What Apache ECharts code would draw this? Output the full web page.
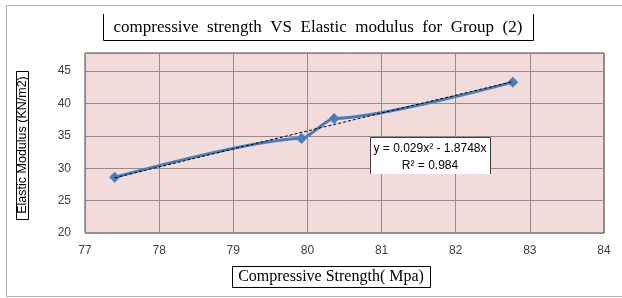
<!DOCTYPE html>
<html>
<head>
<meta charset="utf-8" />
<title></title>
<script src="https://cdn.jsdelivr.net/npm/echarts@6/dist/echarts.min.js"></script>
<style>
  body { margin: 0; background: #fff; }
</style>
</head>
<body>
<div id="main" style="width: 622px;height: 298px;"></div>
<script type="text/javascript">
// data
var strength = [77.4, 79.92, 80.36, 82.77];   // Compressive Strength (Mpa)
var modulus = [28.6, 34.6, 37.7, 43.3];       // Elastic Modulus (KN/m2)
var xTicks = [77, 78, 79, 80, 81, 82, 83, 84];
var yTicks = [20, 25, 30, 35, 40, 45];
var titleText = 'compressive  strength  VS  Elastic  modulus  for  Group  (2)';
var xName = 'Compressive Strength( Mpa)';
var yName = 'Elastic Modulus (KN/m2)';
var trendLines = ['y = 0.029x\u00b2 - 1.8748x', 'R\u00b2 = 0.984'];

// least squares quadratic trendline of the data
function quadFit(xs, ys) {
  var m = xs.reduce(function (a, b) { return a + b; }, 0) / xs.length;
  var S = [0, 0, 0, 0, 0], T = [0, 0, 0];
  for (var i = 0; i < xs.length; i++) {
    var u = xs[i] - m;
    for (var k = 0; k < 5; k++) S[k] += Math.pow(u, k);
    for (var k2 = 0; k2 < 3; k2++) T[k2] += ys[i] * Math.pow(u, k2);
  }
  var A = [[S[0], S[1], S[2], T[0]], [S[1], S[2], S[3], T[1]], [S[2], S[3], S[4], T[2]]];
  for (var c = 0; c < 3; c++) {
    for (var r = c + 1; r < 3; r++) {
      var f = A[r][c] / A[c][c];
      for (var j = c; j < 4; j++) A[r][j] -= f * A[c][j];
    }
  }
  var coef = [0, 0, 0];
  for (var r2 = 2; r2 >= 0; r2--) {
    var s = A[r2][3];
    for (var j2 = r2 + 1; j2 < 3; j2++) s -= A[r2][j2] * coef[j2];
    coef[r2] = s / A[r2][r2];
  }
  return function (x) { var u = x - m; return coef[0] + coef[1] * u + coef[2] * u * u; };
}
var trendFn = quadFit(strength, modulus);
var trendData = [];
var x0 = Math.min.apply(null, strength), x1 = Math.max.apply(null, strength);
for (var n = 0; n <= 40; n++) {
  var xv = x0 + (x1 - x0) * n / 40;
  trendData.push([xv, trendFn(xv)]);
}

var myChart = echarts.init(document.getElementById('main'));
var option = {
  animation: false,
  backgroundColor: '#fff',
  grid: {
    left: 85, top: 53, right: 18, bottom: 65,
    show: true,
    backgroundColor: '#f2dcdb',
    borderColor: '#404040',
    borderWidth: 1
  },
  xAxis: {
    type: 'value',
    min: xTicks[0], max: xTicks[xTicks.length - 1], interval: 1,
    axisLine: { show: false },
    axisTick: { show: false },
    axisLabel: { color: '#404040', fontFamily: 'Liberation Sans', fontSize: 12, margin: 12 },
    splitLine: { lineStyle: { color: '#938a8a', width: 1 } }
  },
  yAxis: {
    type: 'value',
    min: yTicks[0], max: 47.8, interval: 5,
    axisLine: { show: false },
    axisTick: { show: false },
    axisLabel: {
      color: '#404040', fontFamily: 'Liberation Sans', fontSize: 12, margin: 14,
      showMaxLabel: false
    },
    splitLine: { lineStyle: { color: '#938a8a', width: 1 } }
  },
  series: [
    {
      type: 'line',
      smooth: 0.25,
      smoothMonotone: 'x',
      data: strength.map(function (v, i) { return [v, modulus[i]]; }),
      symbol: 'diamond',
      symbolSize: 11,
      itemStyle: { color: '#4a7ebb' },
      lineStyle: { color: '#4a7ebb', width: 3 },
      z: 2
    },
    {
      type: 'line',
      data: trendData,
      showSymbol: false,
      symbol: 'none',
      lineStyle: { color: '#000', width: 1, type: [3, 2] },
      z: 3
    }
  ],
  graphic: [
    { // outer frame
      type: 'rect', shape: { x: 6.5, y: 5.5, width: 630, height: 291 },
      style: { fill: 'none', stroke: '#b0b0b0', lineWidth: 1 }, z: 0, silent: true
    },
    { // title box, open at the top
      type: 'polyline',
      shape: { points: [[103.5, 14], [103.5, 40.5], [533.5, 40.5], [533.5, 14]] },
      style: { fill: 'none', stroke: '#000', lineWidth: 1 }, z: 10
    },
    {
      type: 'text', x: 318, y: 28, z: 10,
      style: {
        text: titleText, font: '17px "Liberation Serif"', fill: '#000',
        textAlign: 'center', textVerticalAlign: 'middle'
      }
    },
    { // x axis name box
      type: 'rect', shape: { x: 232.5, y: 266.5, width: 198, height: 21 },
      style: { fill: '#fff', stroke: '#000', lineWidth: 1 }, z: 10
    },
    {
      type: 'text', x: 331, y: 277, z: 11,
      style: {
        text: xName, font: '16px "Liberation Serif"', fill: '#000',
        textAlign: 'center', textVerticalAlign: 'middle'
      }
    },
    { // y axis name box
      type: 'rect', shape: { x: 16.5, y: 71.5, width: 12, height: 148 },
      style: { fill: '#fff', stroke: '#000', lineWidth: 1 }, z: 10
    },
    {
      type: 'text', x: 22.5, y: 145, rotation: Math.PI / 2, z: 11,
      style: {
        text: yName, font: '12.5px "Liberation Sans"', fill: '#000',
        textAlign: 'center', textVerticalAlign: 'middle'
      }
    },
    { // trendline label box, open at the bottom
      type: 'polygon',
      shape: { points: [[370.5, 174], [370.5, 137.5], [490.5, 137.5], [490.5, 174]] },
      style: { fill: '#fff', stroke: 'none' }, z: 10
    },
    {
      type: 'polyline',
      shape: { points: [[370.5, 174], [370.5, 137.5], [490.5, 137.5], [490.5, 174]] },
      style: { fill: 'none', stroke: '#404040', lineWidth: 1 }, z: 10
    },
    {
      type: 'text', x: 430, y: 149, z: 11,
      style: {
        text: trendLines[0], font: '12px "Liberation Sans"', fill: '#000',
        textAlign: 'center', textVerticalAlign: 'middle'
      }
    },
    {
      type: 'text', x: 430, y: 166, z: 11,
      style: {
        text: trendLines[1], font: '12px "Liberation Sans"', fill: '#000',
        textAlign: 'center', textVerticalAlign: 'middle'
      }
    }
  ]
};
myChart.setOption(option);
</script>
</body>
</html>
